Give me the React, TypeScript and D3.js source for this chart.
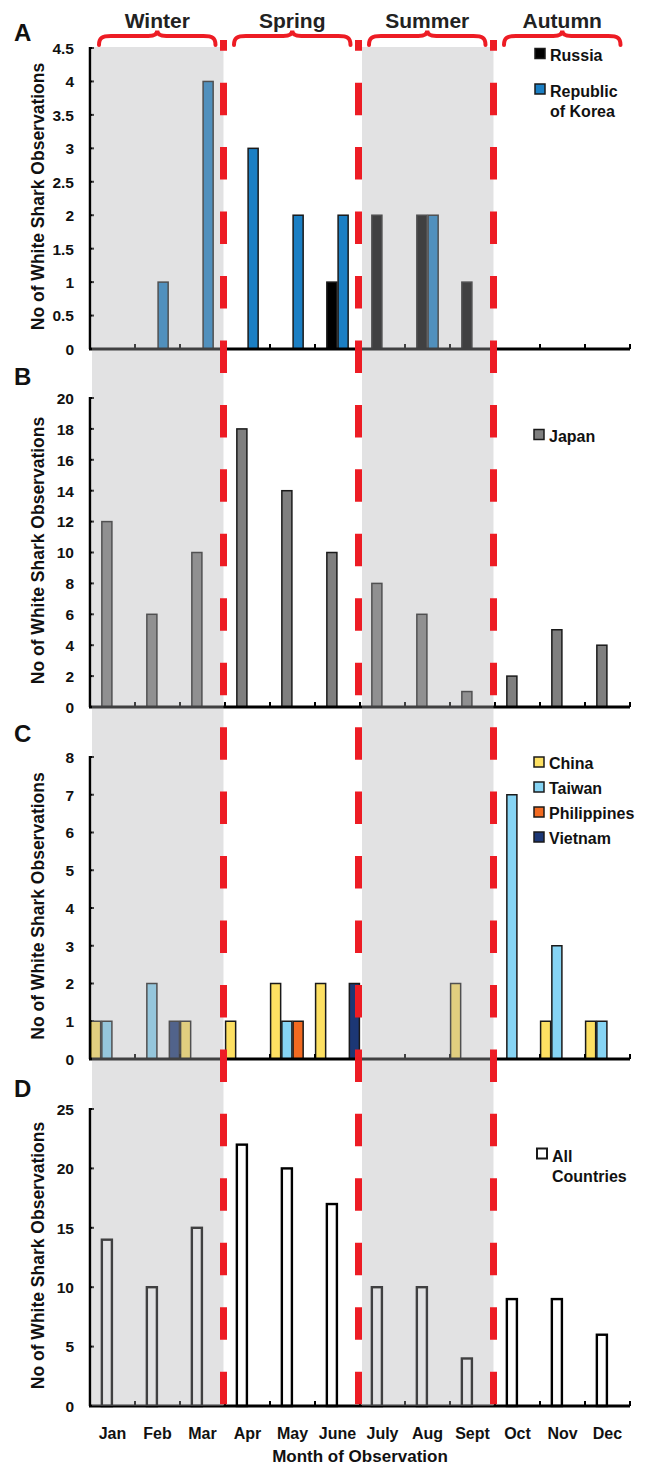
import React from 'react';
import * as d3 from 'd3';

const months = ['Jan', 'Feb', 'Mar', 'Apr', 'May', 'June', 'July', 'Aug', 'Sept', 'Oct', 'Nov', 'Dec'];
const seasons = ['Winter', 'Spring', 'Summer', 'Autumn'];

// observations per month
const russia = [0, 0, 0, 0, 0, 1, 2, 2, 1, 0, 0, 0];
const korea = [0, 1, 4, 3, 2, 2, 0, 2, 0, 0, 0, 0];
const japan = [12, 6, 10, 18, 14, 10, 8, 6, 1, 2, 5, 4];
const china = [1, 0, 1, 1, 2, 2, 0, 0, 2, 0, 1, 1];
const taiwan = [1, 2, 0, 0, 1, 0, 0, 0, 0, 7, 3, 1];
const philippines = [0, 0, 0, 0, 1, 0, 0, 0, 0, 0, 0, 0];
const vietnam = [0, 1, 0, 0, 0, 2, 0, 0, 0, 0, 0, 0];
const allCountries = [14, 10, 15, 22, 20, 17, 10, 10, 4, 9, 9, 6];

const W = 648;
const H = 1467;
const FONT = "'Liberation Sans', Arial, Helvetica, sans-serif";
const RED = '#ed1c24';
const Y_LABEL = 'No of White Shark Observations';

interface Series {
  name: string;
  values: number[];
  color: string;
  slot: number;
}

interface LegendItem {
  color: string;
  sqY: number;
  lines: string[];
  lineYs: number[];
}

interface Panel {
  letter: string;
  letterY: number;
  top: number;
  bottom: number;
  max: number;
  step: number;
  series: Series[];
  legendX: number;
  legend: LegendItem[];
  outline?: boolean;
}

const panels: Panel[] = [
  {
    letter: 'A', letterY: 41, top: 48, bottom: 349, max: 4.5, step: 0.5,
    series: [
      { name: 'Russia', values: russia, color: '#000000', slot: 1 },
      { name: 'Republic of Korea', values: korea, color: '#1b7fc4', slot: 2 },
    ],
    legendX: 535,
    legend: [
      { color: '#000000', sqY: 48.5, lines: ['Russia'], lineYs: [60.5] },
      { color: '#1b7fc4', sqY: 84, lines: ['Republic', 'of Korea'], lineYs: [96.5, 116.5] },
    ],
  },
  {
    letter: 'B', letterY: 385, top: 398, bottom: 707, max: 20, step: 2,
    series: [{ name: 'Japan', values: japan, color: '#7f7f7f', slot: 1 }],
    legendX: 534,
    legend: [{ color: '#7f7f7f', sqY: 429.5, lines: ['Japan'], lineYs: [441.5] }],
  },
  {
    letter: 'C', letterY: 742, top: 757, bottom: 1059, max: 8, step: 1,
    series: [
      { name: 'China', values: china, color: '#fde062', slot: 0 },
      { name: 'Taiwan', values: taiwan, color: '#86d4f4', slot: 1 },
      { name: 'Philippines', values: philippines, color: '#f26a21', slot: 2 },
      { name: 'Vietnam', values: vietnam, color: '#1c3775', slot: 3 },
    ],
    legendX: 534,
    legend: [
      { color: '#fde062', sqY: 757, lines: ['China'], lineYs: [769] },
      { color: '#86d4f4', sqY: 782, lines: ['Taiwan'], lineYs: [794] },
      { color: '#f26a21', sqY: 807, lines: ['Philippines'], lineYs: [819] },
      { color: '#1c3775', sqY: 832, lines: ['Vietnam'], lineYs: [844] },
    ],
  },
  {
    letter: 'D', letterY: 1097, top: 1109, bottom: 1406, max: 25, step: 5,
    series: [{ name: 'All Countries', values: allCountries, color: '#ffffff', slot: 1 }],
    legendX: 537,
    legend: [{ color: '#ffffff', sqY: 1148.5, lines: ['All', 'Countries'], lineYs: [1161.5, 1181.5] }],
    outline: true,
  },
];

const x = d3.scaleBand<string>().domain(months).range([90, 630]).padding(0);
const bw = x.bandwidth();
const slotScale = d3.scaleBand<number>().domain([0, 1, 2, 3]).range([0, bw]).padding(0);
const sw = slotScale.bandwidth();

const seasonEdge = (i: number) => x(months[i * 3])!;
const seasonEnd = (i: number) => x(months[i * 3 + 2])! + bw;

function bracePath(x1: number, x2: number) {
  const xm = (x1 + x2) / 2;
  const yb = 45;
  const ya = 36;
  const yp = 30.5;
  return `M${x1},${yb} C${x1},${ya + 2} ${x1 + 3},${ya} ${x1 + 12},${ya} L${xm - 9},${ya} C${xm - 3},${ya} ${xm},${ya - 1.5} ${xm},${yp} C${xm},${ya - 1.5} ${xm + 3},${ya} ${xm + 9},${ya} L${x2 - 12},${ya} C${x2 - 3},${ya} ${x2},${ya + 2} ${x2},${yb}`;
}

const PanelView: React.FC<{ p: Panel }> = ({ p }) => {
  const y = d3.scaleLinear().domain([0, p.max]).range([p.bottom, p.top]);
  const ticks = d3.range(0, p.max + p.step / 2, p.step).map(v => +v.toFixed(2));
  const x0 = 90;
  const mid = (p.top + p.bottom) / 2;
  return (
    <g>
      <text x={14} y={p.letterY} fontSize={24} fontWeight="bold" fill="#111">{p.letter}</text>
      <text
        transform={`translate(44,${mid - 2}) rotate(-90)`}
        textAnchor="middle"
        fontSize={17.5}
        fontWeight="bold"
        fill="#111"
      >
        {Y_LABEL}
      </text>
      {ticks.map(t => (
        <g key={t}>
          <text x={74} y={y(t)} dy="0.38em" textAnchor="end" fontSize={15.5} fontWeight="bold" fill="#111">
            {String(t)}
          </text>
          {t > 0 && <line x1={x0} x2={x0 + 4} y1={y(t)} y2={y(t)} stroke="#000" strokeWidth={2} />}
        </g>
      ))}
      {p.series.map(s =>
        s.values.map((v, i) =>
          v > 0 ? (
            <rect
              key={s.name + i}
              x={x(months[i])! + slotScale(s.slot)! + 0.6}
              y={y(v)}
              width={sw - 1.2}
              height={p.bottom - y(v)}
              fill={s.color}
              stroke={p.outline ? '#000' : '#1a1a1a'}
              strokeWidth={p.outline ? 2.4 : 1.5}
            />
          ) : null
        )
      )}
      <line x1={x0} x2={x0} y1={p.top - 1} y2={p.bottom} stroke="#000" strokeWidth={2.5} />
      <line x1={x0 - 1} x2={630} y1={p.bottom} y2={p.bottom} stroke="#000" strokeWidth={3} />
      {months.map(m => (
        <line key={m} x1={x(m)! + bw} x2={x(m)! + bw} y1={p.bottom} y2={p.bottom - 5} stroke="#000" strokeWidth={2} />
      ))}
      {p.legend.map(l => (
        <g key={l.lines[0]}>
          <rect x={p.legendX} y={l.sqY} width={10} height={10} fill={l.color} stroke="#1a1a1a" strokeWidth={p.outline ? 2 : 1.5} />
          {l.lines.map((line, k) => (
            <text key={line} x={p.legendX + 15} y={l.lineYs[k]} fontSize={16} fontWeight="bold" fill="#111">
              {line}
            </text>
          ))}
        </g>
      ))}
    </g>
  );
};

const App: React.FC = () => {
  const shadeTop = 47;
  const shadeBottom = 1406;
  const lastBottom = panels[panels.length - 1].bottom;
  return (
    <svg
      width={W}
      height={H}
      viewBox={`0 0 ${W} ${H}`}
      style={{ position: 'absolute', left: 0, top: 0, background: '#fff' }}
      fontFamily={FONT}
    >
      <rect x={0} y={0} width={W} height={H} fill="#fff" />
      {panels.map(p => (
        <PanelView key={p.letter} p={p} />
      ))}
      {/* shaded winter and summer columns sit over the bars */}
      {[0, 2].map(i => (
        <rect
          key={i}
          x={seasonEdge(i) + 2}
          y={shadeTop}
          width={seasonEnd(i) - 1.5 - seasonEdge(i) - 2}
          height={shadeBottom - shadeTop}
          fill="#afafb2"
          opacity={0.365}
        />
      ))}
      {[1, 2, 3].map(i => (
        <line
          key={i}
          x1={seasonEdge(i) - 1.5}
          x2={seasonEdge(i) - 1.5}
          y1={40}
          y2={lastBottom}
          stroke={RED}
          strokeWidth={7}
          strokeDasharray="32.5 31.95"
          strokeDashoffset={21.8}
        />
      ))}
      {seasons.map((s, i) => {
        const a = seasonEdge(i) + 9;
        const b = seasonEnd(i) - 9.5;
        return (
          <g key={s}>
            <path d={bracePath(a, b)} fill="none" stroke={RED} strokeWidth={4} strokeLinecap="round" />
            <text x={(a + b) / 2} y={27.5} textAnchor="middle" fontSize={21} fontWeight="bold" fill="#222">
              {s}
            </text>
          </g>
        );
      })}
      {months.map(m => (
        <text key={m} x={x(m)! + bw / 2} y={1439} textAnchor="middle" fontSize={16} fontWeight="bold" fill="#111">
          {m}
        </text>
      ))}
      <text x={360} y={1462} textAnchor="middle" fontSize={17} fontWeight="bold" fill="#111">
        Month of Observation
      </text>
    </svg>
  );
};

export default App;
